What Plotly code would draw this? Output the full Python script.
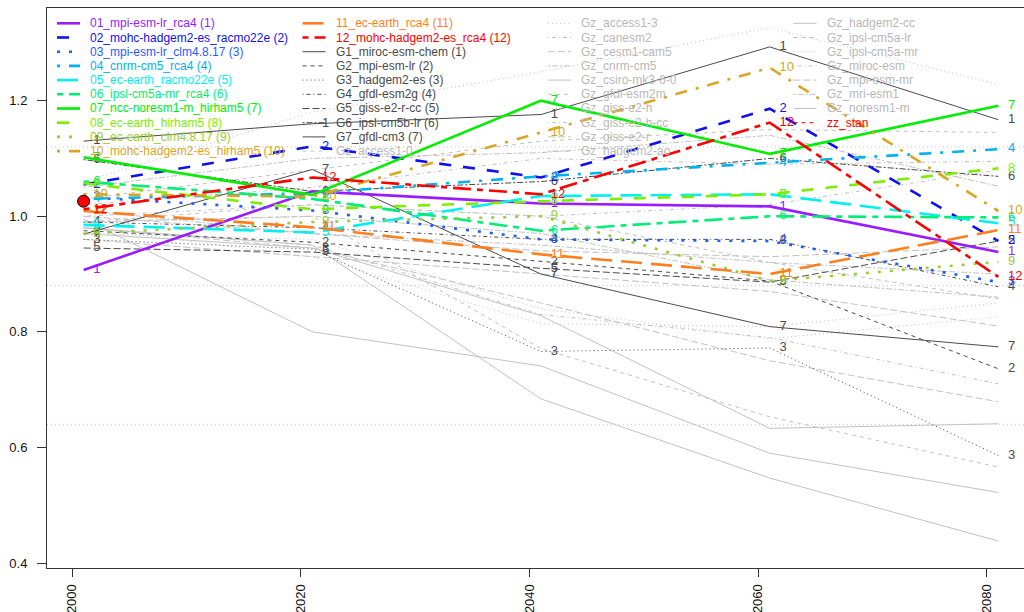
import plotly.graph_objects as go

# ---------------- data ----------------
years = [2001, 2021, 2041, 2061, 2081]

rcm_names = ["01_mpi-esm-lr_rca4", "02_mohc-hadgem2-es_racmo22e", "03_mpi-esm-lr_clm4.8.17",
             "04_cnrm-cm5_rca4", "05_ec-earth_racmo22e", "06_ipsl-cm5a-mr_rca4",
             "07_ncc-noresm1-m_hirham5", "08_ec-earth_hirham5", "09_ec-earth_clm4.8.17",
             "10_mohc-hadgem2-es_hirham5", "11_ec-earth_rca4", "12_mohc-hadgem2-es_rca4"]
r01 = [0.907, 1.043, 1.022, 1.017, 0.938]
r02 = [1.055, 1.121, 1.067, 1.186, 0.957]
r03 = [1.033, 1.010, 0.960, 0.957, 0.886]
r04 = [1.030, 1.040, 1.069, 1.093, 1.116]
r05 = [0.985, 0.972, 1.035, 1.038, 0.988]
r06 = [1.060, 1.030, 0.975, 1.000, 0.998]
r07 = [1.102, 1.037, 1.200, 1.108, 1.191]
r08 = [1.057, 1.012, 1.026, 1.038, 1.083]
r09 = [0.970, 0.990, 1.000, 0.888, 0.921]
r10 = [1.038, 1.034, 1.145, 1.257, 1.009]
r11 = [1.009, 0.981, 0.934, 0.900, 0.976]
r12 = [1.012, 1.067, 1.038, 1.162, 0.895]
rcm_values = [r01, r02, r03, r04, r05, r06, r07, r08, r09, r10, r11, r12]

g_names = ["G1_miroc-esm-chem", "G2_mpi-esm-lr", "G3_hadgem2-es", "G4_gfdl-esm2g",
           "G5_giss-e2-r-cc", "G6_ipsl-cm5b-lr", "G7_gfdl-cm3"]
g1 = [1.130, 1.160, 1.176, 1.293, 1.167]
g2 = [0.975, 0.955, 0.922, 0.888, 0.736]
g3 = [0.960, 0.943, 0.766, 0.772, 0.586]
g4 = [0.990, 0.980, 0.960, 0.960, 0.878]
g5 = [0.945, 0.938, 0.910, 0.886, 0.957]
g6 = [1.098, 1.043, 1.060, 1.100, 1.069]
g7 = [0.969, 1.081, 0.900, 0.809, 0.774]
g_values = [g1, g2, g3, g4, g5, g6, g7]

gz_names = ["Gz_access1-0", "Gz_access1-3", "Gz_canesm2", "Gz_cesm1-cam5", "Gz_cnrm-cm5",
            "Gz_csiro-mk3-6-0", "Gz_gfdl-esm2m", "Gz_giss-e2-h", "Gz_giss-e2-h-cc",
            "Gz_giss-e2-r", "Gz_hadgem2-ao", "Gz_hadgem2-cc", "Gz_ipsl-cm5a-lr",
            "Gz_ipsl-cm5a-mr", "Gz_miroc-esm", "Gz_mpi-esm-mr", "Gz_mri-esm1", "Gz_noresm1-m"]
z01 = [0.990, 1.020, 1.000, 0.920, 0.857]
z02 = [1.060, 1.180, 1.250, 1.326, 1.228]
z03 = [0.980, 0.950, 0.830, 0.790, 0.710]
z04 = [1.000, 0.970, 0.940, 0.930, 0.947]
z05 = [0.990, 1.000, 0.970, 0.890, 0.860]
z06 = [0.995, 0.800, 0.741, 0.590, 0.522]
z07 = [0.990, 1.000, 0.771, 0.653, 0.566]
z08 = [0.970, 0.960, 0.840, 0.788, 0.826]
z09 = [1.020, 1.050, 1.100, 1.090, 1.095]
z10 = [0.980, 0.945, 0.850, 0.750, 0.679]
z11 = [1.050, 1.100, 1.110, 1.140, 1.052]
z12 = [0.970, 0.945, 0.828, 0.633, 0.641]
z13 = [1.030, 1.080, 1.130, 1.150, 1.145]
z14 = [0.980, 0.930, 0.814, 0.809, 0.850]
z15 = [1.000, 1.020, 1.000, 1.020, 1.080]
z16 = [0.960, 0.930, 0.900, 0.870, 0.810]
z17 = [1.010, 0.970, 0.950, 0.920, 0.900]
z18 = [0.980, 0.950, 0.684, 0.547, 0.438]
gz_values = [z01, z02, z03, z04, z05, z06, z07, z08, z09, z10, z11, z12, z13, z14, z15, z16, z17, z18]

stan_name = "zz_stan"
stan_year = [2001]
stan_value = [1.026]

ref_levels = [1.12, 0.88, 0.64]
y_ticks = [0.4, 0.6, 0.8, 1.0, 1.2]
x_ticks = [2000, 2020, 2040, 2060, 2080]

# ---------------- styles ----------------
rcm_colors = ["#9B1BFF", "#1010F0", "#1F5CFF", "#00B2EE", "#00F0F0", "#00EE76",
              "#00EE00", "#7CEE00", "#9ACD32", "#DAA520", "#FF7F1E", "#FF0000"]
G_COL = "#4A4A4A"
GZ_COL = "#C2C2C2"
LTYS = ["solid", "dashed", "dotted", "dotdash", "longdash", "twodash"]


def dash_for(lty, lwd):
    pat = {"solid": None, "dashed": [4, 4], "dotted": [1, 3], "dotdash": [1, 3, 4, 3],
           "longdash": [7, 3], "twodash": [2, 2, 6, 2]}[lty]
    if pat is None:
        return "solid"
    return ",".join(f"{p * lwd:g}px" for p in pat)


W, H = 1024, 612
L, T, B, R = 47, 8, 44, 0
FONT = "Liberation Sans, Arial, Helvetica, sans-serif"


def pxx(px):
    return (px - L) / (W - L - R)


def pxy(py):
    return 1 - (py - T) / (H - T - B)


fig = go.Figure()

for lev in ref_levels:
    fig.add_hline(y=lev, line=dict(color="#C8C8C8", width=1, dash="1px,3px"), layer="below")

LBL_DX = 0.85

# Gz
for i, (nm, vals) in enumerate(zip(gz_names, gz_values)):
    lty = LTYS[(i + 7) % 6]
    fig.add_trace(go.Scatter(x=years, y=vals, mode="lines", name=nm,
                             line=dict(color=GZ_COL, width=1, dash=dash_for(lty, 1)),
                             showlegend=False))
# G
for i, (nm, vals) in enumerate(zip(g_names, g_values)):
    lty = LTYS[i % 6]
    fig.add_trace(go.Scatter(x=years, y=vals, mode="lines", name=nm,
                             line=dict(color=G_COL, width=1, dash=dash_for(lty, 1)),
                             showlegend=False))
    fig.add_trace(go.Scatter(x=[y + LBL_DX for y in years], y=vals, mode="text",
                             text=[str(i + 1)] * len(years), textposition="middle right",
                             textfont=dict(color=G_COL, size=13, family=FONT),
                             showlegend=False, hoverinfo="skip"))
# RCM
for i, (nm, vals) in enumerate(zip(rcm_names, rcm_values)):
    lty = LTYS[i % 6]
    fig.add_trace(go.Scatter(x=years, y=vals, mode="lines", name=nm,
                             line=dict(color=rcm_colors[i], width=2.6, dash=dash_for(lty, 3)),
                             showlegend=False))
    fig.add_trace(go.Scatter(x=[y + LBL_DX for y in years], y=vals, mode="text",
                             text=[str(i + 1)] * len(years), textposition="middle right",
                             textfont=dict(color=rcm_colors[i], size=13, family=FONT),
                             showlegend=False, hoverinfo="skip"))

fig.add_trace(go.Scatter(x=stan_year, y=stan_value, mode="markers", name=stan_name,
                         marker=dict(color="#FF0000", size=12, line=dict(color="black", width=1)),
                         showlegend=False))

# legend (R style, 4 columns, column-major)
leg_items = []
for i, nm in enumerate(rcm_names):
    leg_items.append((f"{nm} ({i + 1})", rcm_colors[i], rcm_colors[i], 2.6, LTYS[i % 6], 3))
for i, nm in enumerate(g_names):
    leg_items.append((f"{nm} ({i + 1})", G_COL, G_COL, 1, LTYS[i % 6], 1))
for i, nm in enumerate(gz_names):
    leg_items.append((nm, GZ_COL, "#B8B8B8", 1, LTYS[(i + 7) % 6], 1))
leg_items.append((stan_name, "#FF0000", "#FF0000", 1, LTYS[1], 1))

shapes = []
annots = []
for k, (label, lcol, tcol, lw, lty, sc) in enumerate(leg_items):
    col, row = divmod(k, 10)
    tx = 89 + 245.5 * col
    ty = 23.3 + 14.2 * row
    shapes.append(dict(type="line", xref="paper", yref="paper",
                       x0=pxx(tx - 32), x1=pxx(tx - 9), y0=pxy(ty), y1=pxy(ty),
                       line=dict(color=lcol, width=lw, dash=dash_for(lty, sc))))
    annots.append(dict(xref="paper", yref="paper", x=pxx(tx), y=pxy(ty), text=label,
                       showarrow=False, xanchor="left", yanchor="middle",
                       font=dict(color=tcol, size=12, family=FONT), borderpad=0))

fig.update_layout(
    width=W, height=H,
    margin=dict(l=L, r=R, t=T, b=B),
    plot_bgcolor="white", paper_bgcolor="white",
    showlegend=False,
    shapes=list(fig.layout.shapes) + shapes,
    annotations=annots,
    font=dict(family=FONT, size=13, color="#111111"),
)
fig.update_xaxes(range=[1997.8, 2083.24], tickvals=x_ticks, ticktext=[str(v) for v in x_ticks],
                 tickangle=-90, ticks="outside", ticklen=8, tickcolor="#333333",
                 ticklabelstandoff=2,
                 showline=True, linecolor="#333333", linewidth=1, mirror=True,
                 showgrid=False, zeroline=False, tickfont=dict(size=13, color="#111111"))
fig.update_yaxes(range=[0.3914, 1.3603], tickvals=y_ticks, ticktext=[f"{v:.1f}" for v in y_ticks],
                 ticks="outside", ticklen=9, tickcolor="#333333",
                 ticklabelstandoff=7,
                 showline=True, linecolor="#333333", linewidth=1, mirror=True,
                 showgrid=False, zeroline=False, tickfont=dict(size=13, color="#111111"))

fig.write_html("out.html", config={"displayModeBar": False},
               post_script="document.body.style.margin='0px';document.body.style.overflow='hidden';")
